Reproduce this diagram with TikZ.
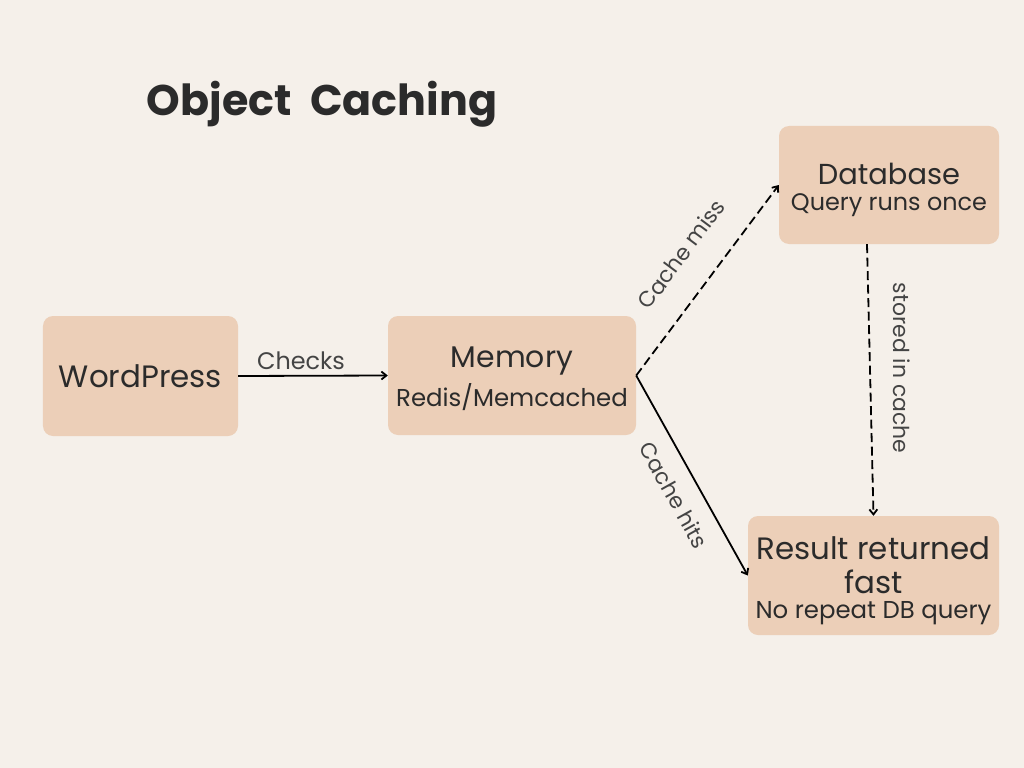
\documentclass[tikz,border=0pt]{standalone}
\usepackage{fontspec}
\setmainfont{Poppins}
\usetikzlibrary{arrows.meta}
\definecolor{bg}{HTML}{F5F0EA}
\definecolor{boxc}{HTML}{ECCFB8}
\definecolor{txt}{HTML}{2B2B2B}
\definecolor{lbl}{HTML}{444444}
\tikzset{
  box/.style={fill=boxc, rounded corners=10bp, inner sep=0pt, text=txt, align=center},
  conn/.style={line width=1.8bp, -{Straight Barb[length=5bp,width=8bp]}},
  dsh/.style={dash pattern=on 9bp off 4.5bp},
  lab/.style={text=lbl, font=\fontsize{22}{24}\selectfont, inner sep=0pt}
}
\begin{document}
\begin{tikzpicture}[x=1bp,y=-1bp]
\fill[bg] (0,0) rectangle (1024,768);
\useasboundingbox (0,0) rectangle (1024,768);
\node[text=txt, anchor=center, inner sep=0pt, font=\fontsize{43}{46}\selectfont\bfseries] (title) at (322,104) {Object\ \ Caching};
\node[box, minimum width=195bp, minimum height=120bp, font=\fontsize{31}{34}\selectfont] (wp) at (140.5,376) {WordPress};
\node[box, minimum width=248bp, minimum height=119bp] (mem) at (512,375.5) {};
\node[text=txt, font=\fontsize{30}{32}\selectfont, inner sep=0pt] (memt) at (512,361) {Memory};
\node[text=txt, font=\fontsize{24.5}{26}\selectfont, inner sep=0pt] (mems) at (512,397) {Redis/Memcached};
\node[box, minimum width=220bp, minimum height=118bp] (db) at (889,185) {};
\node[text=txt, font=\fontsize{29}{32}\selectfont, inner sep=0pt] (dbt) at (889,174) {Database};
\node[text=txt, font=\fontsize{24}{26}\selectfont, inner sep=0pt] (dbs) at (889,205) {Query runs once};
\node[box, minimum width=251bp, minimum height=119bp] (res) at (873.5,575.5) {};
\node[text=txt, font=\fontsize{31}{34}\selectfont, inner sep=0pt] (rest1) at (873.5,548) {Result returned};
\node[text=txt, font=\fontsize{31}{34}\selectfont, inner sep=0pt] (rest2) at (873.5,582) {fast};
\node[text=txt, font=\fontsize{24.5}{26}\selectfont, inner sep=0pt] (ress) at (873.5,613) {No repeat DB query};
\draw[conn] (wp.east) -- (mem.west);
\node[lab, font=\fontsize{24}{26}\selectfont] (lchk) at (301,361) {Checks};
\draw[conn, dsh] (mem.east) -- (db.west);
\node[lab, rotate=53.3] (lmiss) at (681,254) {Cache miss};
\draw[conn] (mem.east) -- (res.west);
\node[lab, rotate=-60.8] (lhit) at (674,495) {Cache hits};
\draw[conn, dsh] ([xshift=-22bp]db.south) -- (res.north);
\node[lab] [rotate=-90] (lsto) at (902,368) {stored in cache};
\end{tikzpicture}
\end{document}
